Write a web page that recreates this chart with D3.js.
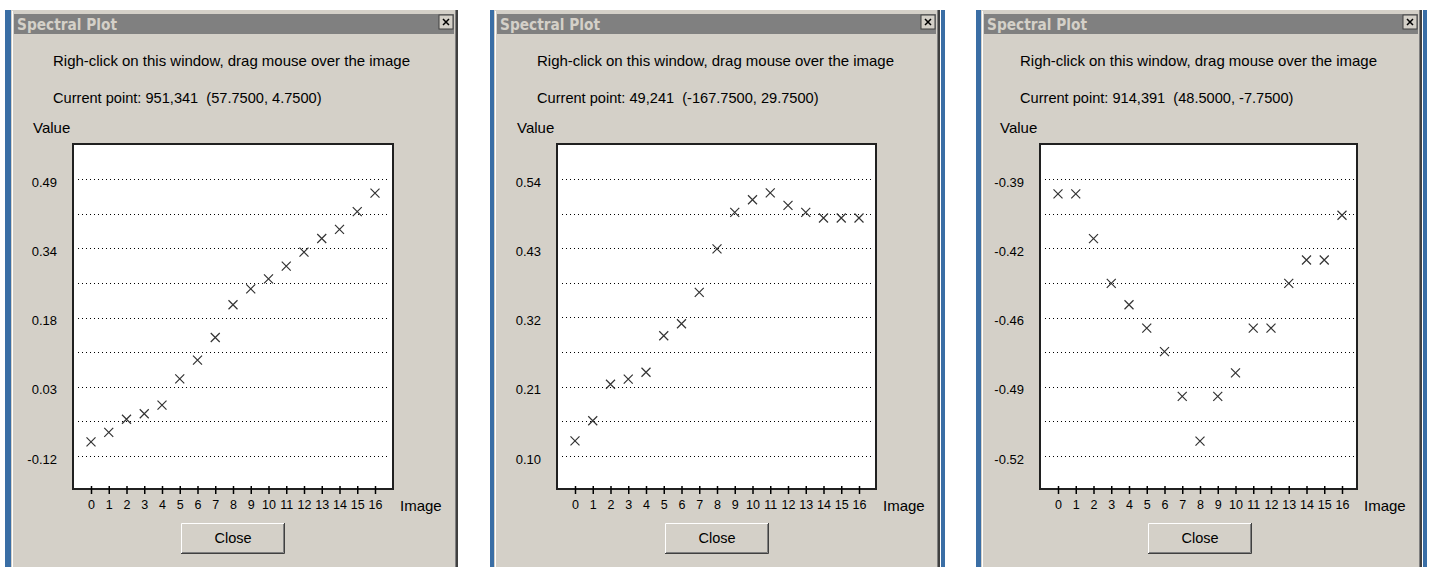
<!DOCTYPE html>
<html>
<head>
<meta charset="utf-8">
<script src="https://cdn.jsdelivr.net/npm/d3@7"></script>
<style>
  html, body { margin: 0; padding: 0; background: #ffffff; }
  svg { display: block; }
  text { white-space: pre; }
</style>
</head>
<body>
<svg id="chart" width="1429" height="567"></svg>
<script>
// ---------------- data ----------------
const images = [0, 1, 2, 3, 4, 5, 6, 7, 8, 9, 10, 11, 12, 13, 14, 15, 16];

const valuesA = [-0.089, -0.068, -0.039, -0.027, -0.008, 0.050, 0.091, 0.141, 0.213,
                 0.248, 0.270, 0.298, 0.329, 0.359, 0.379, 0.418, 0.459];
const valuesB = [0.124, 0.156, 0.214, 0.222, 0.233, 0.291, 0.310, 0.360, 0.429,
                 0.487, 0.507, 0.518, 0.498, 0.487, 0.478, 0.478, 0.478];
const valuesC = [-0.397, -0.397, -0.418, -0.439, -0.449, -0.460, -0.471, -0.492, -0.513,
                 -0.492, -0.481, -0.460, -0.460, -0.439, -0.428, -0.428, -0.407];

const tickLabelsA = ["-0.12", "0.03", "0.18", "0.34", "0.49"];
const tickLabelsB = ["0.10", "0.21", "0.32", "0.43", "0.54"];
const tickLabelsC = ["-0.52", "-0.49", "-0.46", "-0.42", "-0.39"];

const domainA = [-0.12, 0.49];
const domainB = [0.10, 0.54];
const domainC = [-0.52, -0.39];

const windowTitle = "Spectral Plot";
const instruction = "Righ-click on this window, drag mouse over the image";
const pointTexts = [
  "Current point: 951,341  (57.7500, 4.7500)",
  "Current point: 49,241  (-167.7500, 29.7500)",
  "Current point: 914,391  (48.5000, -7.7500)"
];
const yTitle = "Value";
const xTitle = "Image";
const buttonLabel = "Close";

// ---------------- layout (positions only) ----------------
const panels = [
  { values: valuesA, labels: tickLabelsA, domain: domainA, text: pointTexts[0],
    stripL: 5, bodyL: 11, bodyR: 456, plotL: 73, plotR: 393, rightStrip: false },
  { values: valuesB, labels: tickLabelsB, domain: domainB, text: pointTexts[1],
    stripL: 490, bodyL: 494, bodyR: 938, plotL: 557, plotR: 876, rightStrip: true },
  { values: valuesC, labels: tickLabelsC, domain: domainC, text: pointTexts[2],
    stripL: 976, bodyL: 981, bodyR: 1420, plotL: 1040, plotR: 1357, rightStrip: true }
];

const FACE = "#d4d0c8";
const BLUE = "#3a6ea5";
const FONT = "'Liberation Sans', Arial, sans-serif";

const plotTop = 144, plotBottom = 489;
const gridTopY = 179, gridBottomY = 456;

const svg = d3.select("#chart");
svg.append("rect").attr("width", 1429).attr("height", 567).attr("fill", "#ffffff");

panels.forEach(p => {
  const g = svg.append("g");

  // window frame
  g.append("rect").attr("x", p.stripL).attr("y", 10).attr("width", p.bodyL - p.stripL)
    .attr("height", 557).attr("fill", BLUE);
  g.append("rect").attr("x", p.bodyL).attr("y", 10).attr("width", p.bodyR - p.bodyL)
    .attr("height", 557).attr("fill", FACE);
  g.append("line").attr("x1", p.bodyL + 1.5).attr("x2", p.bodyL + 1.5).attr("y1", 11).attr("y2", 567)
    .attr("stroke", "#ffffff").attr("stroke-width", 1);
  g.append("rect").attr("x", p.bodyR - 1).attr("y", 10).attr("width", 1)
    .attr("height", 557).attr("fill", "#808080");
  g.append("rect").attr("x", p.bodyR).attr("y", 10).attr("width", 2)
    .attr("height", 557).attr("fill", "#404040");
  if (p.rightStrip) {
    g.append("rect").attr("x", p.bodyR + 3).attr("y", 10).attr("width", 4)
      .attr("height", 557).attr("fill", BLUE);
  }

  // title bar
  g.append("rect").attr("x", p.bodyL + 3).attr("y", 14).attr("width", p.bodyR - p.bodyL - 5)
    .attr("height", 20).attr("fill", "#808080");
  g.append("text").attr("x", p.bodyL + 6).attr("y", 30)
    .attr("font-family", "'DejaVu Sans', Verdana, sans-serif").attr("font-weight", "bold")
    .attr("font-size", 15).attr("fill", FACE)
    .attr("textLength", 100).attr("lengthAdjust", "spacingAndGlyphs")
    .text(windowTitle);

  // close box in title bar
  const cbx = p.bodyR - 17, cby = 15;
  g.append("rect").attr("x", cbx).attr("y", cby).attr("width", 14).attr("height", 14)
    .attr("fill", FACE).attr("stroke", "#404040").attr("stroke-width", 1);
  g.append("path").attr("d", `M${cbx + 4},${cby + 4}L${cbx + 10},${cby + 10}M${cbx + 10},${cby + 4}L${cbx + 4},${cby + 10}`)
    .attr("stroke", "#000").attr("stroke-width", 1.5);

  // header texts
  g.append("text").attr("x", p.plotL - 20).attr("y", 66)
    .attr("font-family", FONT).attr("font-size", 14.6).attr("fill", "#000")
    .attr("textLength", 357).attr("lengthAdjust", "spacingAndGlyphs")
    .text(instruction);
  g.append("text").attr("x", p.plotL - 20).attr("y", 103)
    .attr("font-family", FONT).attr("font-size", 14.6).attr("fill", "#000")
    .text(p.text);
  g.append("text").attr("x", p.plotL - 40).attr("y", 133)
    .attr("font-family", FONT).attr("font-size", 15).attr("fill", "#000")
    .text(yTitle);

  // plot area
  g.append("rect").attr("x", p.plotL).attr("y", plotTop)
    .attr("width", p.plotR - p.plotL).attr("height", plotBottom - plotTop)
    .attr("fill", "#ffffff").attr("stroke", "#202020").attr("stroke-width", 2);

  const x = d3.scaleLinear().domain([images[0], images[images.length - 1]])
    .range([p.plotL + 18, p.plotL + 302]);
  const y = d3.scaleLinear().domain(p.domain).range([gridBottomY, gridTopY]);

  // gridlines: 8 intervals, label on every other one
  const nGrid = 8;
  const gridVals = d3.range(nGrid + 1).map(i => p.domain[0] + i * (p.domain[1] - p.domain[0]) / nGrid);
  g.selectAll(".grid").data(gridVals).join("line")
    .attr("x1", p.plotL + 5).attr("x2", p.plotR - 3)
    .attr("y1", d => Math.round(y(d)) + 0.5).attr("y2", d => Math.round(y(d)) + 0.5)
    .attr("stroke", "#000").attr("stroke-width", 1).attr("stroke-dasharray", "1,3");

  g.selectAll(".ylab").data(p.labels).join("text")
    .attr("x", p.plotL - 16)
    .attr("y", (d, i) => y(gridVals[i * 2]) + 7.5)
    .attr("text-anchor", "end")
    .attr("font-family", FONT).attr("font-size", 13).attr("fill", "#000")
    .text(d => d);

  // x axis ticks + labels
  const axis = d3.axisBottom(x).tickValues(images).tickSize(8).tickPadding(6)
    .tickFormat(d3.format("d"));
  const ax = g.append("g").attr("transform", `translate(0,${plotBottom - 3})`).call(axis);
  ax.select(".domain").remove();
  ax.selectAll(".tick line").attr("stroke", "#000").attr("stroke-width", 1.5);
  ax.selectAll(".tick text").attr("font-family", FONT).attr("font-size", 12.5).attr("fill", "#000");

  g.append("text").attr("x", p.plotR + 7).attr("y", 511)
    .attr("font-family", FONT).attr("font-size", 15).attr("fill", "#000")
    .text(xTitle);

  // X markers
  const s = 4.5;
  g.selectAll(".pt").data(p.values).join("path")
    .attr("d", (d, i) => {
      const cx = x(images[i]), cy = y(d);
      return `M${cx - s},${cy - s}L${cx + s},${cy + s}M${cx + s},${cy - s}L${cx - s},${cy + s}`;
    })
    .attr("stroke", "#333").attr("stroke-width", 1.2).attr("fill", "none");

  // Close button
  const cx0 = (x.range()[0] + x.range()[1]) / 2;
  const bw = 104, bh = 31;
  const bx = Math.round(cx0 - bw / 2), by = 523;
  g.append("rect").attr("x", bx).attr("y", by).attr("width", bw).attr("height", bh).attr("fill", FACE);
  g.append("path").attr("d", `M${bx + 0.5},${by + bh}V${by + 0.5}H${bx + bw}`)
    .attr("stroke", "#ffffff").attr("fill", "none");
  g.append("path").attr("d", `M${bx},${by + bh - 0.5}H${bx + bw - 0.5}V${by}`)
    .attr("stroke", "#404040").attr("fill", "none");
  g.append("path").attr("d", `M${bx + 1},${by + bh - 1.5}H${bx + bw - 1.5}V${by + 1}`)
    .attr("stroke", "#808080").attr("fill", "none");
  g.append("text").attr("x", bx + bw / 2).attr("y", by + 20)
    .attr("text-anchor", "middle")
    .attr("font-family", FONT).attr("font-size", 14.5).attr("fill", "#000")
    .text(buttonLabel);
});
</script>
</body>
</html>
